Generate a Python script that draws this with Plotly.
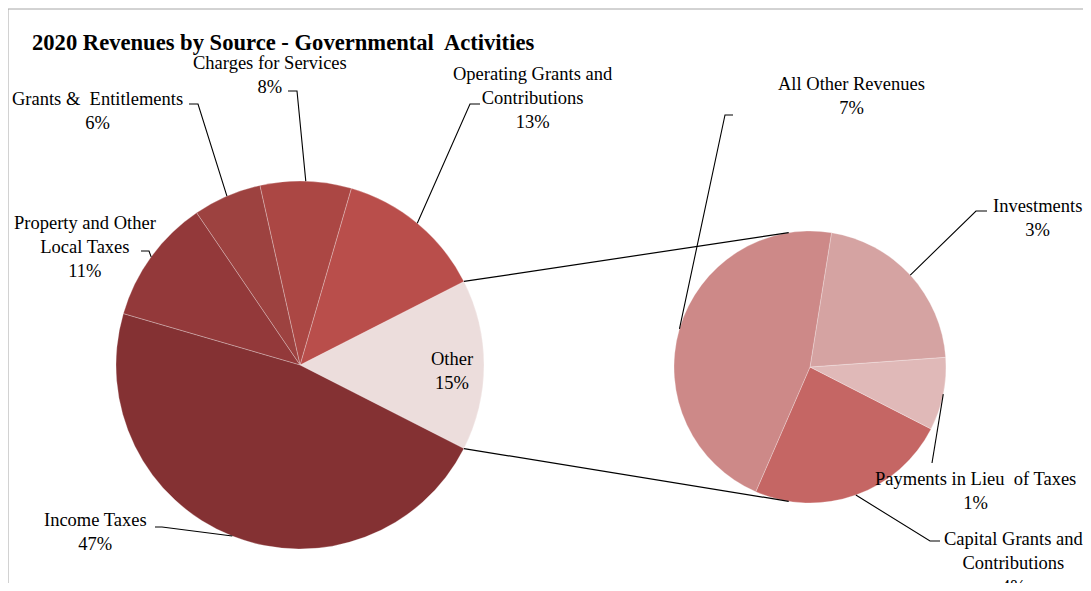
import math
import plotly.graph_objects as go

# ---------------- data ----------------
main_names = ["Other", "Operating Grants and Contributions", "Charges for Services",
              "Grants & Entitlements", "Property and Other Local Taxes", "Income Taxes"]
main_text = ["Other", "Operating Grants and<br>Contributions", "Charges for Services",
             "Grants &  Entitlements", "Property and Other<br>Local Taxes", "Income Taxes"]
main_values = [15, 13, 8, 6, 11, 47]
main_colors = ["#ecdddc", "#b94e4b", "#ab4744", "#9d4240", "#93393a", "#843133"]

sub_names = ["Capital Grants and Contributions", "Payments in Lieu of Taxes",
             "Investments", "All Other Revenues"]
sub_text = ["Capital Grants and<br>Contributions", "Payments in Lieu  of Taxes",
            "Investments", "All Other Revenues"]
sub_values = [3.6, 1.3, 3.2, 6.9]
sub_colors = ["#c56664", "#e0b9b8", "#d5a3a2", "#cd8988"]

title_text = "2020 Revenues by Source - Governmental  Activities"

# ---------------- geometry (page pixels) ----------------
OFF_X, OFF_Y = 8, 8          # body margin of the html page
FW, FH = 1075, 575           # figure size


def px(x):
    return (x - OFF_X) / FW


def py(y):
    return 1 - (y - OFF_Y) / FH


LC, LR = (300, 365), 184     # main pie centre / radius
RC, RR = (810, 367), 136     # secondary pie centre / radius

total = sum(main_values)
other_half = 0.5 * 360 * main_values[0] / total

main_start = -other_half     # math angle where the first slice starts (ccw)
sub_start = -113.5


def plotly_rotation(values, start):
    # plotly (ccw): first slice spans [90-rot-theta0, 90-rot]
    theta0 = 360 * values[0] / sum(values)
    return 90 - start - theta0


rot_main = plotly_rotation(main_values, main_start)
rot_sub = plotly_rotation(sub_values, sub_start)


def mid_angles(values, start):
    tot = sum(values)
    out, cum = [], 0.0
    for v in values:
        out.append(start + (cum + v / 2) * 360 / tot)
        cum += v
    return out


def on_circle(c, r, ang):
    a = math.radians(ang)
    return (c[0] + r * math.cos(a), c[1] - r * math.sin(a))


def pct(v):
    return f"{int(v / total * 100 + 0.5)}%"


font_family = "Liberation Serif, Times New Roman, serif"
TXT = "#000000"
FS = 18.5

fig = go.Figure()
fig.add_trace(go.Pie(
    values=main_values, labels=main_names, sort=False, direction="counterclockwise",
    rotation=rot_main, textinfo="none", showlegend=False,
    marker=dict(colors=main_colors, line=dict(color="rgba(255,255,255,0.45)", width=0.6)),
    domain=dict(x=[px(LC[0] - LR), px(LC[0] + LR)], y=[py(LC[1] + LR), py(LC[1] - LR)]),
))
fig.add_trace(go.Pie(
    values=sub_values, labels=sub_names, sort=False, direction="counterclockwise",
    rotation=rot_sub, textinfo="none", showlegend=False,
    marker=dict(colors=sub_colors, line=dict(color="rgba(255,255,255,0.45)", width=0.6)),
    domain=dict(x=[px(RC[0] - RR), px(RC[0] + RR)], y=[py(RC[1] + RR), py(RC[1] - RR)]),
))

shapes = []
annotations = []

# chart-area border
shapes.append(dict(type="path", xref="paper", yref="paper",
                   path=f"M {px(8)} {py(600)} L {px(8)} {py(9)} L {px(1089)} {py(9)} L {px(1089)} {py(600)}",
                   line=dict(color="#a6a6a6", width=1)))

# connector lines between the pies
for sgn in (1, -1):
    p0 = on_circle(LC, LR, sgn * other_half)
    p1 = on_circle(RC, RR, sgn * 99)
    shapes.append(dict(type="line", xref="paper", yref="paper",
                       x0=px(p0[0]), y0=py(p0[1]), x1=px(p1[0]), y1=py(p1[1]),
                       line=dict(color="#000000", width=1.2)))

# label placement (page px) and leader elbows
main_pos = [(452, 371), (533, 98), (270, 75), (97, 111), (85, 247), (95, 532)]
main_lead = [None, [(480, 104), (470, 104)], [(288, 91), (297, 91)],
             [(189, 104), (198, 104)], [(141, 251), (149, 251)], [(155, 527), (162, 527)]]
sub_pos = [(1013, 563), (975, 491), (1037, 218), (851, 96)]
sub_lead = [[(940, 541), (930, 541)], [(932, 463)], [(987, 211), (976, 211)],
            [(733, 115), (725, 115)]]


def add_leader(pts, end):
    allp = pts + [end]
    d = "M " + " L ".join(f"{px(x)} {py(y)}" for x, y in allp)
    shapes.append(dict(type="path", xref="paper", yref="paper", path=d,
                       line=dict(color="#000000", width=1.1)))


for i, a in enumerate(mid_angles(main_values, main_start)):
    if main_lead[i]:
        add_leader(main_lead[i], on_circle(LC, LR, a))
    annotations.append(dict(x=px(main_pos[i][0]), y=py(main_pos[i][1]), xref="paper", yref="paper",
                            text=f"{main_text[i]}<br>{pct(main_values[i])}", showarrow=False,
                            xanchor="center", yanchor="middle", align="center",
                            font=dict(family=font_family, size=FS, color=TXT)))

for i, a in enumerate(mid_angles(sub_values, sub_start)):
    add_leader(sub_lead[i], on_circle(RC, RR, a))
    annotations.append(dict(x=px(sub_pos[i][0]), y=py(sub_pos[i][1]), xref="paper", yref="paper",
                            text=f"{sub_text[i]}<br>{pct(sub_values[i])}", showarrow=False,
                            xanchor="center", yanchor="middle", align="center",
                            font=dict(family=font_family, size=FS, color=TXT)))

annotations.append(dict(x=px(30), y=py(43), xref="paper", yref="paper", text=f"<b>{title_text}</b>",
                        showarrow=False, xanchor="left", yanchor="middle",
                        font=dict(family=font_family, size=22.6, color="#000000")))

fig.update_layout(
    width=FW, height=FH, margin=dict(l=0, r=0, t=0, b=0),
    paper_bgcolor="white", plot_bgcolor="white",
    shapes=shapes, annotations=annotations,
)

fig.write_html("out.html")
